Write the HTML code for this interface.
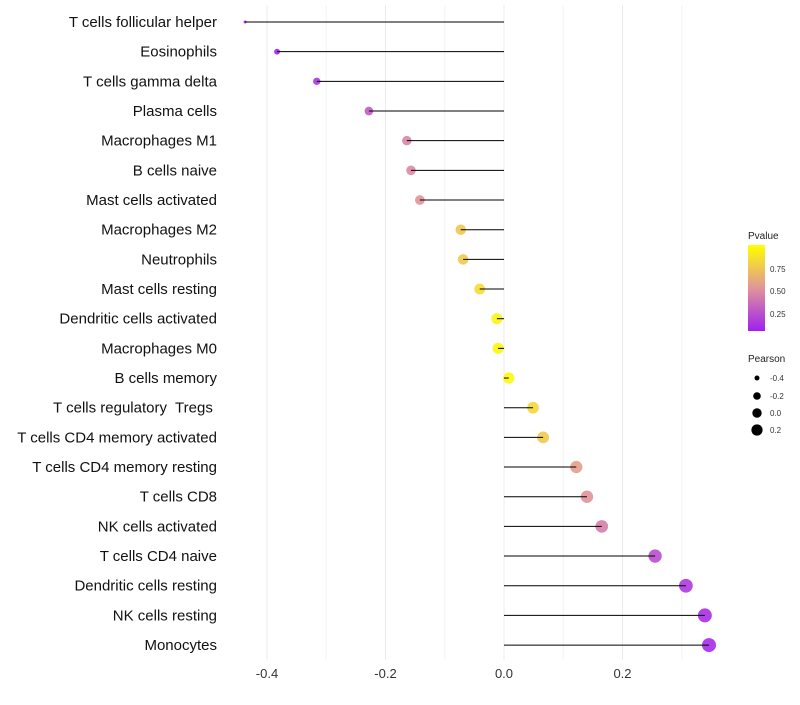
<!DOCTYPE html>
<html><head><meta charset="utf-8"><style>
body{margin:0;background:#fff;font-family:"Liberation Sans",sans-serif}
svg text{font-family:"Liberation Sans",sans-serif}
</style></head><body>
<svg id="chart" width="800" height="700" xmlns="http://www.w3.org/2000/svg">
<defs><linearGradient id="pg" x1="0" y1="1" x2="0" y2="0">
<stop offset="0" stop-color="#a020f0"/><stop offset="0.5" stop-color="#e0959a"/><stop offset="1" stop-color="#ffff00"/></linearGradient></defs>
<g id="grid"></g>
<g id="marks"></g>
<g id="labels"></g>
<g id="xt"></g>
<g>
<text x="748" y="239" font-size="10" fill="#222">Pvalue</text>
<rect x="748" y="245" width="17" height="86" fill="url(#pg)"/>
<text x="770" y="272" font-size="8" fill="#333">0.75</text>
<text x="770" y="294" font-size="8" fill="#333">0.50</text>
<text x="770" y="317" font-size="8" fill="#333">0.25</text>
</g>
<g>
<text x="748" y="362" font-size="10" fill="#222">Pearson</text>
<circle cx="757" cy="378" r="2.5"/><text x="770" y="381" font-size="8" fill="#333">-0.4</text>
<circle cx="757" cy="396" r="3.8"/><text x="770" y="399" font-size="8" fill="#333">-0.2</text>
<circle cx="757" cy="413" r="4.7"/><text x="770" y="416" font-size="8" fill="#333">0.0</text>
<circle cx="757" cy="430" r="5.6"/><text x="770" y="433" font-size="8" fill="#333">0.2</text>
</g>
</svg>
<script>
const cells=["T cells follicular helper","Eosinophils","T cells gamma delta","Plasma cells","Macrophages M1","B cells naive","Mast cells activated","Macrophages M2","Neutrophils","Mast cells resting","Dendritic cells activated","Macrophages M0","B cells memory","T cells regulatory  Tregs ","T cells CD4 memory activated","T cells CD4 memory resting","T cells CD8","NK cells activated","T cells CD4 naive","Dendritic cells resting","NK cells resting","Monocytes"];
const pearson=[-0.437,-0.383,-0.316,-0.228,-0.164,-0.157,-0.142,-0.073,-0.069,-0.041,-0.012,-0.010,0.008,0.049,0.066,0.122,0.140,0.165,0.255,0.307,0.339,0.346];
const pvalue=[0.04,0.08,0.15,0.3,0.47,0.49,0.53,0.75,0.76,0.85,0.95,0.96,0.97,0.82,0.76,0.58,0.53,0.45,0.25,0.17,0.12,0.11];
const xticks=[-0.4,-0.2,0.0,0.2];
const xminor=[-0.3,-0.1,0.1,0.3];
const NS="http://www.w3.org/2000/svg";
const xs=v=>504+v*592.5, ys=i=>22+i*29.67;
function mk(t,a,p){const e=document.createElementNS(NS,t);for(const k in a)e.setAttribute(k,a[k]);p.appendChild(e);return e;}
function lerp(a,b,t){return a.map((v,i)=>Math.round(v+(b[i]-v)*t));}
function col(p){const lo=[160,32,240],mid=[224,149,154],hi=[255,255,0];const t=Math.max(0,Math.min(1,(p-0.065)/(1-0.065)));const c=t<0.5?lerp(lo,mid,t/0.5):lerp(mid,hi,(t-0.5)/0.5);return `rgb(${c})`;}
const rad=v=>1.5+5.5*Math.sqrt(Math.max(0,(v+0.437)/0.783));
const g=document.getElementById('grid'),m=document.getElementById('marks'),lb=document.getElementById('labels'),xt=document.getElementById('xt');
xminor.forEach(v=>{const l=mk('line',{x1:xs(v),x2:xs(v),y1:5,y2:660,stroke:'#f4f4f4','stroke-width':1},g);

});
xticks.forEach(v=>{const l=mk('line',{x1:xs(v),x2:xs(v),y1:5,y2:660,stroke:'#ebebeb','stroke-width':1},g);


const t=mk('text',{x:xs(v),y:678,'font-size':13,'text-anchor':'middle',fill:'#333'},xt);t.textContent=v.toFixed(1);

});
cells.forEach((c,i)=>{const y=ys(i);
const ci=mk('circle',{cx:xs(pearson[i]),cy:y,r:rad(pearson[i]),fill:col(pvalue[i]),'fill-opacity':0.9},m);


const ln=mk('line',{x1:xs(0),x2:xs(pearson[i]),y1:y,y2:y,stroke:'#000','stroke-width':1},m);


const t=mk('text',{x:217,y:y+5,'font-size':15,'text-anchor':'end',fill:'#111'},lb);t.textContent=c;
t.style.whiteSpace='pre';

});
</script>
</body></html>
